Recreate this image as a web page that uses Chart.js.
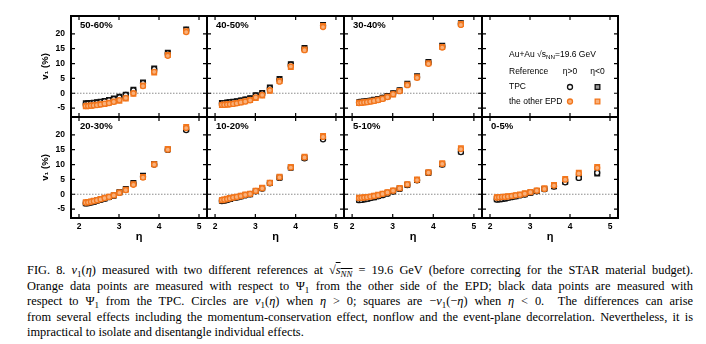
<!DOCTYPE html>
<html>
<head>
<meta charset="utf-8">
<script src="https://cdn.jsdelivr.net/npm/chart.js@4.4.0/dist/chart.umd.min.js"></script>
<style>
  body { margin: 0; width: 706px; height: 344px; background: #fff; position: relative; overflow: hidden; }
  canvas { position: absolute; }
  #caption { position: absolute; left: 27px; top: 263px; width: 666px; font-family: "Liberation Serif", serif; font-size: 12.4px; line-height: 15.5px; color: #000; }
  #caption div { text-align: justify; text-align-last: justify; }
  #caption div.last { text-align-last: left; }
  sub { font-size: 0.72em; line-height: 0; vertical-align: -0.3em; }
  .ov { text-decoration: overline; }
</style>
</head>
<body>
<div id="caption">
  <div>FIG. 8. <i>v</i><sub>1</sub>(<i>η</i>) measured with two different references at √<span class="ov"><i>s</i><sub><i>NN</i></sub></span> = 19.6 GeV (before correcting for the STAR material budget).</div>
  <div>Orange data points are measured with respect to Ψ<sub>1</sub> from the other side of the EPD; black data points are measured with</div>
  <div>respect to Ψ<sub>1</sub> from the TPC. Circles are <i>v</i><sub>1</sub>(<i>η</i>) when <i>η</i> &gt; 0; squares are −<i>v</i><sub>1</sub>(−<i>η</i>) when <i>η</i> &lt; 0.&nbsp; The differences can arise</div>
  <div>from several effects including the momentum-conservation effect, nonflow and the event-plane decorrelation. Nevertheless, it is</div>
  <div class="last">impractical to isolate and disentangle individual effects.</div>
</div>
<script>
// eta bins (EPD rings) and axis ticks
const eta = [2.17, 2.23, 2.30, 2.37, 2.45, 2.54, 2.64, 2.75, 2.87, 3.01, 3.17, 3.36, 3.60, 3.88, 4.22, 4.68];
const xTicks = [2, 3, 4, 5];
const yTicks = [-5, 0, 5, 10, 15, 20];

// v1 (%) - orange = other EPD, black = TPC ; Pos = eta>0 (circles), Neg = eta<0 (squares)
const epdPos_5060 = [-4.3, -4.3, -4.2, -4.1, -4.0, -3.8, -3.5, -3.3, -2.9, -2.3, -1.6, 0.0, 2.4, 7.2, 12.6, 20.6];
const epdNeg_5060 = [-4.4, -4.2, -4.2, -4.0, -3.9, -3.7, -3.6, -3.2, -2.8, -2.5, -1.8, -0.2, 2.6, 7.0, 12.9, 20.9];
const tpcPos_5060 = [-3.6, -3.5, -3.4, -3.3, -3.2, -3.0, -2.7, -2.4, -2.0, -1.4, -0.6, 1.0, 3.4, 8.1, 13.4, 21.3];
const tpcNeg_5060 = [-3.4, -3.4, -3.3, -3.2, -3.0, -2.9, -2.6, -2.3, -1.8, -1.2, -0.5, 1.2, 3.6, 8.3, 13.6, 21.5];

const epdPos_4050 = [-3.9, -3.9, -3.8, -3.7, -3.6, -3.4, -3.1, -2.8, -2.4, -1.4, -0.6, 1.0, 3.9, 9.0, 14.5, 22.3];
const epdNeg_4050 = [-4.0, -3.8, -3.8, -3.6, -3.5, -3.3, -3.0, -2.7, -2.3, -1.6, -0.8, 0.8, 4.1, 8.8, 14.7, 22.6];
const tpcPos_4050 = [-3.4, -3.3, -3.2, -3.1, -3.0, -2.8, -2.5, -2.2, -1.8, -0.8, 0.0, 1.7, 4.6, 9.6, 15.0, 22.8];
const tpcNeg_4050 = [-3.3, -3.3, -3.1, -3.0, -2.9, -2.7, -2.4, -2.1, -1.7, -0.7, 0.1, 1.9, 4.8, 9.8, 15.2, 23.0];

const epdPos_3040 = [-3.3, -3.2, -3.1, -3.0, -2.8, -2.6, -2.3, -1.9, -1.3, -0.3, 0.7, 2.7, 5.2, 9.9, 15.4, 23.0];
const epdNeg_3040 = [-3.2, -3.2, -3.0, -2.9, -2.8, -2.5, -2.2, -1.8, -1.2, -0.4, 0.8, 2.9, 5.4, 10.1, 15.6, 23.3];
const tpcPos_3040 = [-3.0, -2.9, -2.8, -2.7, -2.5, -2.3, -2.0, -1.6, -1.0, -0.1, 0.9, 3.0, 5.5, 10.3, 15.8, 23.4];
const tpcNeg_3040 = [-3.1, -2.9, -2.8, -2.6, -2.5, -2.2, -1.9, -1.5, -0.9, 0.0, 1.0, 3.2, 5.7, 10.5, 16.0, 23.6];

const epdPos_2030 = [-2.8, -2.7, -2.5, -2.3, -2.0, -1.7, -1.3, -0.9, -0.4, 0.5, 1.4, 3.2, 5.6, 10.0, 15.0, 22.3];
const epdNeg_2030 = [-2.7, -2.7, -2.4, -2.2, -2.0, -1.6, -1.2, -0.8, -0.3, 0.6, 1.5, 3.4, 5.8, 10.1, 15.2, 22.6];
const tpcPos_2030 = [-3.1, -3.0, -2.8, -2.5, -2.2, -1.9, -1.5, -1.0, -0.5, 0.6, 1.7, 3.6, 6.0, 10.0, 14.9, 21.6];
const tpcNeg_2030 = [-3.0, -2.9, -2.7, -2.5, -2.1, -1.8, -1.4, -0.9, -0.4, 0.7, 1.8, 3.8, 6.2, 10.2, 15.1, 21.9];

const epdPos_1020 = [-1.9, -1.8, -1.6, -1.4, -1.1, -0.9, -0.6, -0.2, 0.1, 1.1, 2.0, 3.8, 5.7, 9.0, 12.4, 19.3];
const epdNeg_1020 = [-2.0, -1.8, -1.5, -1.3, -1.1, -0.8, -0.5, -0.1, 0.2, 1.2, 2.2, 3.9, 5.9, 9.2, 12.6, 19.6];
const tpcPos_1020 = [-2.3, -2.1, -1.9, -1.6, -1.3, -1.1, -0.8, -0.4, 0.0, 1.0, 1.9, 3.7, 5.5, 8.9, 12.1, 18.5];
const tpcNeg_1020 = [-2.2, -2.1, -1.8, -1.6, -1.3, -1.0, -0.7, -0.3, 0.0, 1.1, 2.0, 3.8, 5.6, 9.0, 12.3, 18.8];

const epdPos_0510 = [-1.3, -1.2, -1.1, -1.0, -0.8, -0.6, -0.3, 0.1, 0.6, 1.2, 2.0, 3.3, 4.8, 7.3, 10.2, 15.2];
const epdNeg_0510 = [-1.2, -1.2, -1.0, -0.9, -0.8, -0.5, -0.2, 0.2, 0.7, 1.3, 2.1, 3.4, 5.0, 7.4, 10.4, 15.5];
const tpcPos_0510 = [-2.0, -1.9, -1.7, -1.5, -1.3, -1.0, -0.7, -0.3, 0.2, 0.9, 1.8, 3.1, 4.7, 7.2, 10.0, 14.2];
const tpcNeg_0510 = [-1.9, -1.8, -1.7, -1.5, -1.2, -1.0, -0.6, -0.2, 0.3, 1.0, 1.9, 3.2, 4.8, 7.2, 10.1, 14.4];

const epdPos_0005 = [-1.1, -1.0, -0.9, -0.9, -0.8, -0.6, -0.4, -0.2, 0.2, 0.7, 1.2, 1.8, 2.9, 4.9, 7.0, 8.9];
const epdNeg_0005 = [-1.0, -1.0, -0.9, -0.8, -0.7, -0.6, -0.3, -0.1, 0.3, 0.8, 1.3, 2.0, 3.1, 5.1, 7.2, 9.2];
const tpcPos_0005 = [-1.8, -1.7, -1.6, -1.4, -1.2, -1.0, -0.7, -0.4, -0.1, 0.5, 1.0, 1.7, 2.6, 4.0, 5.5, 7.2];
const tpcNeg_0005 = [-1.7, -1.7, -1.5, -1.4, -1.1, -0.9, -0.7, -0.3, 0.0, 0.5, 1.1, 1.8, 2.7, 4.2, 5.7, 7.0];

// panel grid
const colLeft = [71, 207, 344, 482, 618];
const rowTop = [16, 117];
const panelH = 101;

const panels = [
  { label: '50-60%', row: 0, col: 0, series: [epdPos_5060, epdNeg_5060, tpcPos_5060, tpcNeg_5060] },
  { label: '40-50%', row: 0, col: 1, series: [epdPos_4050, epdNeg_4050, tpcPos_4050, tpcNeg_4050] },
  { label: '30-40%', row: 0, col: 2, series: [epdPos_3040, epdNeg_3040, tpcPos_3040, tpcNeg_3040] },
  { label: '', row: 0, col: 3, legend: true, series: [] },
  { label: '20-30%', row: 1, col: 0, series: [epdPos_2030, epdNeg_2030, tpcPos_2030, tpcNeg_2030] },
  { label: '10-20%', row: 1, col: 1, series: [epdPos_1020, epdNeg_1020, tpcPos_1020, tpcNeg_1020] },
  { label: '5-10%', row: 1, col: 2, series: [epdPos_0510, epdNeg_0510, tpcPos_0510, tpcNeg_0510] },
  { label: '0-5%', row: 1, col: 3, series: [epdPos_0005, epdNeg_0005, tpcPos_0005, tpcNeg_0005] }
];

const ORANGE = '#f2761c';
const ORANGE_FILL = '#f9b07a';
// orange first so they are drawn on top of black
const markerStyles = [
  { pointStyle: 'circle', pointRadius: 2.5, borderColor: ORANGE, backgroundColor: ORANGE_FILL },
  { pointStyle: 'rect', pointRadius: 3.3, borderColor: ORANGE, backgroundColor: ORANGE_FILL },
  { pointStyle: 'circle', pointRadius: 2.5, borderColor: '#111', backgroundColor: '#fff' },
  { pointStyle: 'rect', pointRadius: 3.3, borderColor: '#111', backgroundColor: '#999' }
];

const SANS = '"Liberation Sans", Arial, sans-serif';

function drawMarker(ctx, style, x, y) {
  ctx.save();
  ctx.lineWidth = 1.3;
  ctx.strokeStyle = style.borderColor;
  ctx.fillStyle = style.backgroundColor;
  ctx.beginPath();
  if (style.pointStyle === 'circle') {
    ctx.arc(x, y, style.pointRadius, 0, Math.PI * 2);
  } else {
    const s = style.pointRadius * Math.SQRT1_2;
    ctx.rect(x - s, y - s, 2 * s, 2 * s);
  }
  ctx.fill();
  ctx.stroke();
  ctx.restore();
}

// dotted zero line, inward ticks, frame, panel label and legend box
const panelFrame = {
  id: 'panelFrame',
  beforeDatasetsDraw(chart, args, opts) {
    if (opts.legend) return;
    const { ctx, chartArea: a, scales: { y } } = chart;
    const y0 = y.getPixelForValue(0);
    ctx.save();
    ctx.strokeStyle = '#8c8c8c';
    ctx.lineWidth = 1;
    ctx.setLineDash([1.5, 1.5]);
    ctx.beginPath();
    ctx.moveTo(a.left, y0);
    ctx.lineTo(a.right, y0);
    ctx.stroke();
    ctx.restore();
  },
  afterDraw(chart, args, opts) {
    const { ctx, chartArea: a, scales: { x, y } } = chart;
    ctx.save();
    ctx.strokeStyle = '#000';
    ctx.lineWidth = 1.2;
    ctx.beginPath();
    xTicks.forEach(v => {
      const px = x.getPixelForValue(v);
      ctx.moveTo(px, a.bottom); ctx.lineTo(px, a.bottom - 4);
      ctx.moveTo(px, a.top); ctx.lineTo(px, a.top + 4);
    });
    yTicks.forEach(v => {
      const py = y.getPixelForValue(v);
      ctx.moveTo(a.left, py); ctx.lineTo(a.left + 4, py);
      ctx.moveTo(a.right, py); ctx.lineTo(a.right - 4, py);
    });
    ctx.stroke();
    ctx.lineWidth = 2;
    ctx.strokeRect(a.left, a.top, a.right - a.left, a.bottom - a.top);

    ctx.fillStyle = '#000';
    ctx.textBaseline = 'middle';
    if (opts.label) {
      ctx.font = 'bold 9.5px ' + SANS;
      ctx.fillText(opts.label, a.left + 9, a.top + 9.5);
    }

    if (opts.legend) {
      const lx = a.left + 27;
      ctx.font = '8.5px ' + SANS;
      let tx = lx;
      const ty = a.top + 39;
      ctx.fillText('Au+Au √s', tx, ty);
      tx += ctx.measureText('Au+Au √s').width;
      ctx.font = '6.2px ' + SANS;
      ctx.fillText('NN', tx, ty + 2.5);
      tx += ctx.measureText('NN').width;
      ctx.font = '8.5px ' + SANS;
      ctx.fillText('=19.6 GeV', tx, ty);

      const c1 = a.left + 88, c2 = a.left + 115.5;
      ctx.fillText('Reference', lx, a.top + 56);
      ctx.textAlign = 'center';
      ctx.fillText('η>0', c1, a.top + 56);
      ctx.fillText('η<0', c2, a.top + 56);
      ctx.textAlign = 'left';
      ctx.fillText('TPC', lx, a.top + 71);
      ctx.fillText('the other EPD', lx, a.top + 85.5);
      drawMarker(ctx, markerStyles[2], c1, a.top + 71);
      drawMarker(ctx, markerStyles[3], c2, a.top + 71);
      drawMarker(ctx, markerStyles[0], c1, a.top + 85.5);
      drawMarker(ctx, markerStyles[1], c2, a.top + 85.5);
    }
    ctx.restore();
  }
};

panels.forEach(p => {
  const showY = p.col === 0;
  const showX = p.row === 1;
  const axisW = showY ? 36 : 0;
  const axisH = showX ? 28 : 0;
  const w = colLeft[p.col + 1] - colLeft[p.col];
  const cv = document.createElement('canvas');
  const cw = w + axisW + 4;
  const ch = panelH + axisH + 4;
  cv.width = cw; cv.height = ch;
  cv.style.width = cw + 'px'; cv.style.height = ch + 'px';
  cv.style.left = (colLeft[p.col] - axisW - 2) + 'px';
  cv.style.top = (rowTop[p.row] - 2) + 'px';
  document.body.appendChild(cv);

  const datasets = p.series.map((vals, i) => Object.assign({
    data: eta.map((e, k) => ({ x: e, y: vals[k] })),
    borderWidth: 1.3,
    clip: false
  }, markerStyles[i]));

  new Chart(cv, {
    type: 'scatter',
    data: { datasets },
    options: {
      responsive: false,
      animation: false,
      devicePixelRatio: 1,
      layout: { autoPadding: false, padding: { left: 2, right: 2, top: 2, bottom: 2 } },
      plugins: {
        legend: { display: false },
        tooltip: { enabled: false },
        panelFrame: { label: p.label, legend: !!p.legend }
      },
      scales: {
        x: {
          type: 'linear', min: 1.8, max: 5.2,
          grid: { display: false, drawTicks: false }, border: { display: false },
          afterBuildTicks: s => { s.ticks = xTicks.map(v => ({ value: v })); },
          ticks: { display: showX, padding: 4, color: '#000', font: { family: SANS, size: 8.5, weight: 'bold' } },
          title: { display: showX, text: 'η', color: '#000', font: { family: SANS, size: 11, weight: 'bold' }, padding: { top: 0, bottom: 2 } },
          afterFit: s => { s.height = axisH; s.paddingLeft = 0; s.paddingRight = 0; }
        },
        y: {
          type: 'linear', min: -8, max: 26,
          grid: { display: false, drawTicks: false }, border: { display: false },
          afterBuildTicks: s => { s.ticks = yTicks.map(v => ({ value: v })); },
          ticks: { display: showY, padding: 6, color: '#000', font: { family: SANS, size: 8.5, weight: 'bold' } },
          title: { display: showY, text: 'v₁ (%)', color: '#000', font: { family: SANS, size: 9.5, weight: 'bold' }, padding: { top: 5, bottom: 0 } },
          afterFit: s => { s.width = axisW; s.paddingTop = 0; s.paddingBottom = 0; }
        }
      }
    },
    plugins: [panelFrame]
  });
});
</script>
</body>
</html>
